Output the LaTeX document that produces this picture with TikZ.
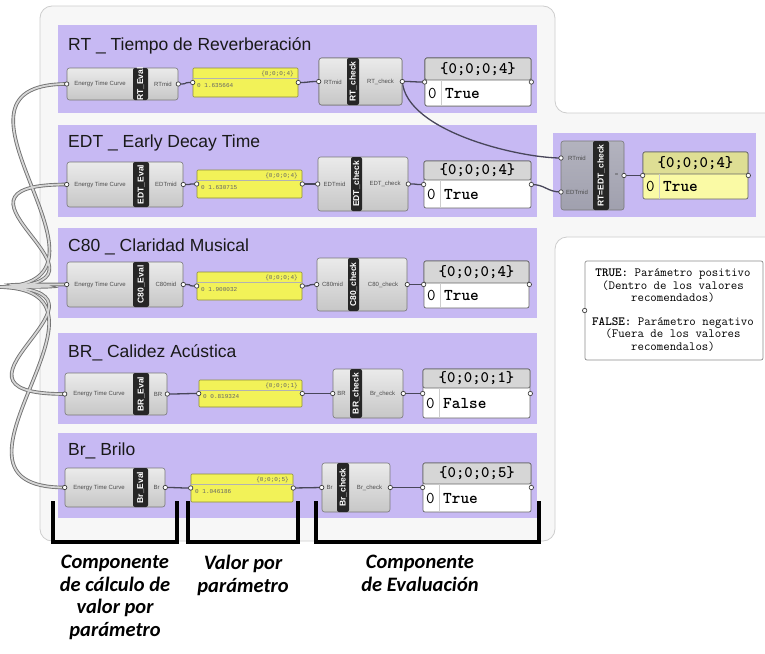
\documentclass[tikz,border=0pt]{standalone}
\usepackage{fontspec}
\setmainfont{Liberation Sans}
\newfontfamily\gmono{Liberation Mono}
\newfontfamily\glabel{Carlito}
\definecolor{grpc}{RGB}{199,185,243}
\definecolor{bgc}{RGB}{247,247,247}
\definecolor{bgline}{RGB}{205,205,205}
\definecolor{compline}{RGB}{120,120,120}
\definecolor{barc}{RGB}{38,38,38}
\definecolor{ypan}{RGB}{242,242,88}
\definecolor{ypanline}{RGB}{140,140,60}
\definecolor{ohead}{RGB}{214,214,214}
\definecolor{oline}{RGB}{105,105,105}
\definecolor{eqcomp}{RGB}{160,160,174}
\definecolor{lypan}{RGB}{250,250,165}
\definecolor{lyhead}{RGB}{222,222,148}
\definecolor{wirein}{RGB}{72,70,90}
\newcommand\gbox[6]{%
  \pgfmathsetmacro\gbw{#4-#2}\pgfmathsetmacro\gbh{#5-#3}%
  \node[#6, minimum width=\gbw pt, minimum height=\gbh pt, inner sep=0pt] (#1) at ({(#2+#4)/2},{(#3+#5)/2}) {};}
\newcommand\gport[1]{\filldraw[fill=white, draw=black!75, line width=0.7pt] #1 circle (2.2);}
\begin{document}
\begin{tikzpicture}[x=1pt,y=-1pt,
  grp/.style={fill=grpc, draw=none},
  comp/.style={rectangle, rounded corners=2.5pt, draw=compline, line width=0.6pt, top color=white!92!black, bottom color=white!78!black},
  eqc/.style={rectangle, rounded corners=2.5pt, draw=compline, line width=0.6pt, top color=eqcomp!80, bottom color=eqcomp},
  barbox/.style={rectangle, rounded corners=2pt, fill=barc, draw=none},
  bartext/.style={rotate=90, text=white, font=\fontsize{8.5}{9}\selectfont\bfseries, inner sep=0pt},
  ctext/.style={text=black!70, font=\fontsize{6}{7}\selectfont, inner sep=0pt},
  ypanel/.style={rectangle, fill=ypan, draw=ypanline, line width=0.6pt, rounded corners=1pt},
  ytext/.style={text=black!60, font=\gmono\fontsize{6}{7}\selectfont, inner sep=0pt},
  opanel/.style={rectangle, fill=white, draw=oline, line width=0.7pt, rounded corners=2pt},
  ohtext/.style={font=\ttfamily\bfseries\fontsize{16}{17}\selectfont, inner sep=0pt},
  obtext/.style={font=\ttfamily\fontsize{16.5}{17}\selectfont, inner sep=0pt, anchor=west},
  title/.style={font=\fontsize{17.5}{20}\selectfont, anchor=base west, inner sep=0pt, text=black!90},
  gw/.style={draw=wirein, line width=1.3pt},
  bigwire/.style={draw=black!55, line width=3.6pt},
  bigwirein/.style={draw=white!84!black, line width=1.8pt},
  brk/.style={draw=black, line width=4pt},
  blabel/.style={font=\glabel\bfseries\itshape\fontsize{20.5}{22.5}\selectfont, align=center, anchor=north, inner sep=0pt},
  legtext/.style={font=\ttfamily\fontsize{12.5}{12.5}\selectfont, align=center, inner sep=0pt}
]
\useasboundingbox (0,0) rectangle (765,653);
% background panel
\filldraw[fill=bgc, draw=bgline, line width=0.8pt, rounded corners=12pt]
  (40,6) -- (555,6) -- (555,113) -- (790,113) -- (790,237) -- (555,237) -- (555,541) -- (40,541) -- cycle;
% groups
\gbox{g1}{58}{25}{537}{113}{grp}
\gbox{g2}{58}{125}{537}{217}{grp}
\gbox{g3}{58}{228}{537}{318}{grp}
\gbox{g4}{58}{333}{537}{424}{grp}
\gbox{g5}{58}{433}{537}{518}{grp}
\gbox{g6}{553}{133}{756}{217}{grp}
\node[title] (t1) at (68,50) {RT \_ Tiempo de Reverberación};
\node[title] (t2) at (68,147) {EDT \_ Early Decay Time};
\node[title] (t3) at (68,251) {C80 \_ Claridad Musical};
\node[title] (t4) at (68,357) {BR\_ Calidez Acústica};
\node[title] (t5) at (68,455) {Br\_ Brilo};
% components
\gbox{rte}{67}{68}{178}{100}{comp}
\gbox{rtc}{319}{58}{402}{105}{comp}
\gbox{edte}{67}{162}{183}{207}{comp}
\gbox{edtc}{318}{157}{408}{211}{comp}
\gbox{c8e}{67}{262}{183}{307}{comp}
\gbox{c8c}{317}{258}{407}{311}{comp}
\gbox{bre}{65}{373}{167}{415}{comp}
\gbox{brc}{333}{369}{403}{418}{comp}
\gbox{ble}{65}{468}{165}{507}{comp}
\gbox{blc}{322}{463}{390}{512}{comp}
\gbox{eq}{561}{141}{624}{210}{eqc}
% yellow panels
\gbox{rty}{193}{68}{298}{97}{ypanel}
\gbox{edty}{197}{170}{302}{198}{ypanel}
\gbox{c8y}{197}{272}{302}{300}{ypanel}
\gbox{bry}{199}{380}{302}{407}{ypanel}
\gbox{bly}{191}{474}{293}{502}{ypanel}
% output panels
\gbox{rtp}{425}{58}{531}{106}{opanel}
\gbox{edtp}{424}{161}{531}{208}{opanel}
\gbox{c8p}{424}{261}{529}{308}{opanel}
\gbox{brp}{423}{369}{530}{418}{opanel}
\gbox{blp}{423}{463}{531}{512}{opanel}
\gbox{eqp}{643}{152}{748}{199}{opanel, fill=lypan}
% wires from source
\coordinate (src) at (-4,287);
\foreach \t in {rte,edte,c8e,bre,ble}{
  \draw[bigwire] (src) .. controls +(150,0) and +(-150,0) .. (\t.west);
}
\foreach \t in {rte,edte,c8e,bre,ble}{
  \draw[bigwirein] (src) .. controls +(150,0) and +(-150,0) .. (\t.west);
}
% inner wires
\coordinate (eqin1) at (561,158);
\coordinate (eqin2) at (561,192);
\coordinate (eqout) at (624,175.5);
\foreach \a/\b in {rte/rty, rty/rtc, rtc/rtp, edte/edty, edty/edtc, edtc/edtp, c8e/c8y, c8y/c8c, c8c/c8p, bre/bry, bry/brc, brc/brp, ble/bly, bly/blc, blc/blp}{
  \draw[gw] (\a.east) .. controls +(14,0) and +(-14,0) .. (\b.west);
}
\draw[gw] (rtc.east) .. controls +(4,50) and +(-42,0) .. (eqin1);
\draw[gw] (edtp.east) .. controls +(14,0) and +(-14,0) .. (eqin2);
\draw[gw] (eqout) .. controls +(10,0) and +(-10,0) .. (eqp.west);
% redraw RT check and panel above the long wire
\gbox{rtc2}{319}{58}{402}{105}{comp}
\gbox{rtp2}{425}{58}{531}{106}{opanel}
% bars
\gbox{rteb}{133}{68}{148}{100}{barbox}
\gbox{rtcb}{347}{58}{359}{105}{barbox}
\gbox{edteb}{133}{162}{149}{207}{barbox}
\gbox{edtcb}{351}{157}{362}{211}{barbox}
\gbox{c8eb}{133}{262}{149}{307}{barbox}
\gbox{c8cb}{348}{258}{359}{311}{barbox}
\gbox{breb}{133}{373}{149}{415}{barbox}
\gbox{brcb}{350}{369}{362}{418}{barbox}
\gbox{bleb}{133}{468}{148}{507}{barbox}
\gbox{blcb}{337}{463}{349}{512}{barbox}
\gbox{eqb}{593}{141}{609}{210}{barbox}
\node[bartext] at (rteb) {RT\_Eval};
\node[bartext] at (rtcb) {RT\_check};
\node[bartext] at (edteb) {EDT\_Eval};
\node[bartext] at (edtcb) {EDT\_check};
\node[bartext] at (c8eb) {C80\_Eval};
\node[bartext] at (c8cb) {C80\_check};
\node[bartext] at (breb) {BR\_Eval};
\node[bartext] at (brcb) {BR\_check};
\node[bartext] at (bleb) {Br\_Eval};
\node[bartext] at (blcb) {Br\_check};
\node[bartext] at (eqb) {RT=EDT\_check};
% component port texts
\node[ctext] at (100,84) {Energy Time Curve};
\node[ctext] at (163,84) {RTmid};
\node[ctext] at (333,82) {RTmid};
\node[ctext] at (380.5,82) {RT\_check};
\node[ctext] at (100,184.5) {Energy Time Curve};
\node[ctext] at (166,184.5) {EDTmid};
\node[ctext] at (334.5,184) {EDTmid};
\node[ctext] at (385,184) {EDT\_check};
\node[ctext] at (100,284.5) {Energy Time Curve};
\node[ctext] at (166,284.5) {C80mid};
\node[ctext] at (332.5,284.5) {C80mid};
\node[ctext] at (383,284.5) {C80\_check};
\node[ctext] at (99,394) {Energy Time Curve};
\node[ctext] at (158,394) {BR};
\node[ctext] at (341.5,393.5) {BR};
\node[ctext] at (382.5,393.5) {Br\_check};
\node[ctext] at (99,487.5) {Energy Time Curve};
\node[ctext] at (156.5,487.5) {Br};
\node[ctext] at (329.5,487.5) {Br};
\node[ctext] at (369.5,487.5) {Br\_check};
\node[ctext] at (577,158) {RTmid};
\node[ctext] at (577,192) {EDTmid};
\node[ctext] at (616.5,175.5) {=};
% yellow panel texts
\draw[black!30, line width=0.4pt] (193,78) -- (298,78);
\draw[black!30, line width=0.4pt] (197,180) -- (302,180);
\draw[black!30, line width=0.4pt] (197,282) -- (302,282);
\draw[black!30, line width=0.4pt] (199,390) -- (302,390);
\draw[black!30, line width=0.4pt] (191,484) -- (293,484);
\node[ytext, anchor=east] at (294,74) {\{0;0;0;4\}};
\node[ytext, anchor=west] at (197,86) {0 1.635664};
\node[ytext, anchor=east] at (298,176) {\{0;0;0;4\}};
\node[ytext, anchor=west] at (201,188) {0 1.630715};
\node[ytext, anchor=east] at (298,278) {\{0;0;0;4\}};
\node[ytext, anchor=west] at (201,290) {0 1.900032};
\node[ytext, anchor=east] at (298,386) {\{0;0;0;1\}};
\node[ytext, anchor=west] at (203,397) {0 0.819324};
\node[ytext, anchor=east] at (289,480) {\{0;0;0;5\}};
\node[ytext, anchor=west] at (195,492) {0 1.046186};
% output panel headers
\filldraw[fill=ohead, draw=oline, line width=0.7pt, rounded corners=2pt] (425,58) rectangle (531,80);
\filldraw[fill=ohead, draw=oline, line width=0.7pt, rounded corners=2pt] (424,161) rectangle (531,180);
\filldraw[fill=ohead, draw=oline, line width=0.7pt, rounded corners=2pt] (424,261) rectangle (529,283);
\filldraw[fill=ohead, draw=oline, line width=0.7pt, rounded corners=2pt] (423,369) rectangle (530,388);
\filldraw[fill=ohead, draw=oline, line width=0.7pt, rounded corners=2pt] (423,463) rectangle (531,484);
\filldraw[fill=lyhead, draw=oline, line width=0.7pt, rounded corners=2pt] (643,152) rectangle (748,174);
\foreach \x/\ya/\yb in {441/80/106, 440/180/208, 440/283/308, 439/388/418, 439/484/512, 659/174/199}{
  \draw[black!20, line width=0.5pt] (\x,\ya) -- (\x,\yb);
}
\node[ohtext] at (478,69) {\{0;0;0;4\}};
\node[obtext] at (428,93) {0 \textbf{True}};
\node[ohtext] at (477.5,170.5) {\{0;0;0;4\}};
\node[obtext] at (427,194) {0 \textbf{True}};
\node[ohtext] at (476.5,272) {\{0;0;0;4\}};
\node[obtext] at (427,295.5) {0 \textbf{True}};
\node[ohtext] at (476.5,378.5) {\{0;0;0;1\}};
\node[obtext] at (426,403) {0 \textbf{False}};
\node[ohtext] at (477,473.5) {\{0;0;0;5\}};
\node[obtext] at (426,498) {0 \textbf{True}};
\node[ohtext] at (695.5,163) {\{0;0;0;4\}};
\node[obtext] at (646,186.5) {0 \textbf{True}};
% ports
\foreach \n in {rte,edte,c8e,bre,ble,rty,edty,c8y,bry,bly,rtc,edtc,c8c,brc,blc,rtp,edtp,c8p,brp,blp,eqp}{
  \gport{(\n.west)} \gport{(\n.east)}
}
\gport{(eqin1)} \gport{(eqin2)} \gport{(eqout)}
% legend
\node[draw=black!45, fill=white, rounded corners=2pt, line width=0.7pt, minimum width=178pt, minimum height=99pt, inner sep=0pt] (leg) at (674,310.5) {};
\gport{(leg.west)}
\node[legtext] at (673,310) {\textbf{TRUE:} Parámetro positivo\\(Dentro de los valores\\recomendados)\\[11pt]\textbf{FALSE:} Parámetro negativo\\(Fuera de los valores\\recomendalos)};
% brackets
\draw[brk] (53,501) -- (53,542) -- (177,542) -- (177,501);
\draw[brk] (188,501) -- (188,542) -- (298,542) -- (298,501);
\draw[brk] (316,501) -- (316,542) -- (539,542) -- (539,501);
\node[blabel] (l1) at (115,555) {Componente\\de cálculo de\\valor por\\parámetro};
\node[blabel] (l2) at (243,555) {Valor por\\parámetro};
\node[blabel] (l3) at (420,555) {Componente\\de Evaluación};
\end{tikzpicture}
\end{document}
